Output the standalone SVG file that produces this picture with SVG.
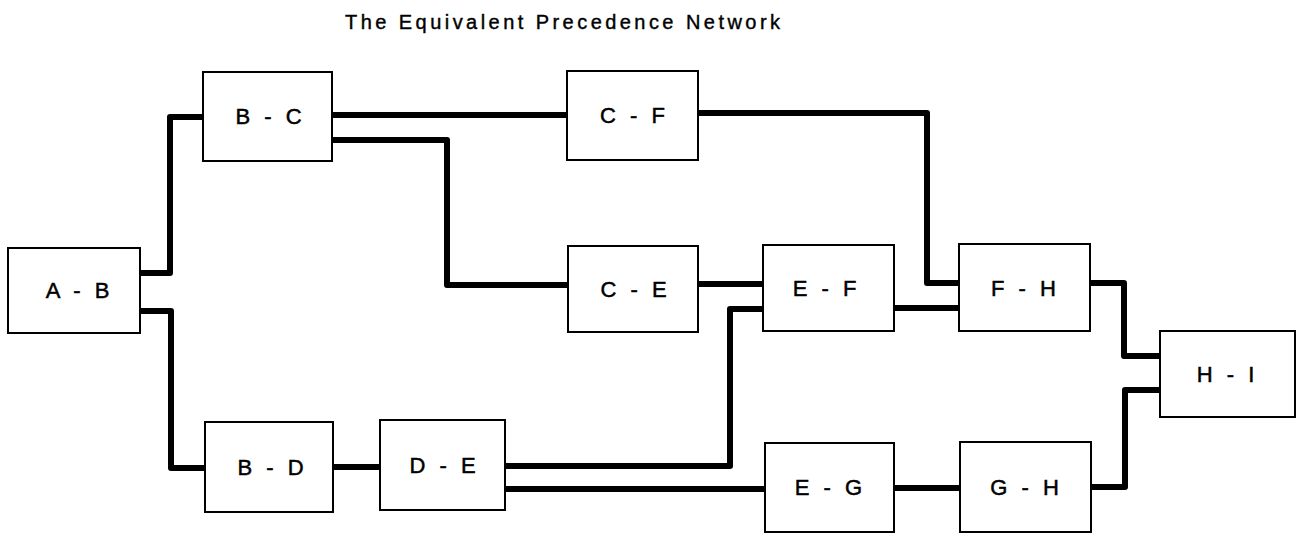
<svg xmlns="http://www.w3.org/2000/svg" width="1301" height="535" viewBox="0 0 1301 535">
  <style>
    .box { fill: #ffffff; stroke: #000000; stroke-width: 2; }
    .lbl { font-family: "Liberation Sans", Arial, sans-serif; font-size: 22px; fill: #000000; stroke: #000000; stroke-width: 0.5; text-anchor: middle; word-spacing: 6px; letter-spacing: 1px; }
    .title { font-family: "Liberation Sans", Arial, sans-serif; font-size: 20px; fill: #000000; stroke: #000000; stroke-width: 0.4; }
    .wire { fill: none; stroke: #000000; stroke-width: 6; stroke-linejoin: round; stroke-linecap: butt; }
  </style>

  <rect x="0" y="0" width="1301" height="535" fill="#ffffff"/>

  <text class="title" x="345" y="29" textLength="435" lengthAdjust="spacing">The Equivalent Precedence Network</text>

  <!-- precedence links, drawn first so the boxes sit on top of their ends -->
  <g id="connectors">
    <path class="wire" d="M140,273 H170 V117 H203"/>
    <path class="wire" d="M140,311 H171 V468 H205"/>
    <path class="wire" d="M332,115 H567"/>
    <path class="wire" d="M332,140 H447 V285 H568"/>
    <path class="wire" d="M698,113 H927 V283 H959"/>
    <path class="wire" d="M698,284 H763"/>
    <path class="wire" d="M894,308 H959"/>
    <path class="wire" d="M333,467 H380"/>
    <path class="wire" d="M505,466 H730 V309 H763"/>
    <path class="wire" d="M505,489 H765"/>
    <path class="wire" d="M894,488 H960"/>
    <path class="wire" d="M1090,283 H1124 V356 H1160"/>
    <path class="wire" d="M1091,487 H1125 V390 H1160"/>
  </g>

  <g id="node-AB">
    <rect class="box" x="8" y="248" width="132" height="85"/>
    <text class="lbl" x="78" y="298">A - B</text>
  </g>
  <g id="node-BC">
    <rect class="box" x="203" y="72" width="129" height="89"/>
    <text class="lbl" x="269" y="124">B - C</text>
  </g>
  <g id="node-CF">
    <rect class="box" x="567" y="71" width="131" height="89"/>
    <text class="lbl" x="633" y="123">C - F</text>
  </g>
  <g id="node-CE">
    <rect class="box" x="568" y="246" width="130" height="86"/>
    <text class="lbl" x="634" y="297">C - E</text>
  </g>
  <g id="node-EF">
    <rect class="box" x="763" y="245" width="131" height="86"/>
    <text class="lbl" x="825" y="296">E - F</text>
  </g>
  <g id="node-FH">
    <rect class="box" x="959" y="244" width="131" height="87"/>
    <text class="lbl" x="1024" y="296">F - H</text>
  </g>
  <g id="node-HI">
    <rect class="box" x="1160" y="331" width="135" height="86"/>
    <text class="lbl" x="1226" y="382">H - I</text>
  </g>
  <g id="node-BD">
    <rect class="box" x="205" y="422" width="128" height="90"/>
    <text class="lbl" x="271" y="475">B - D</text>
  </g>
  <g id="node-DE">
    <rect class="box" x="380" y="420" width="125" height="90"/>
    <text class="lbl" x="443" y="473">D - E</text>
  </g>
  <g id="node-EG">
    <rect class="box" x="765" y="443" width="129" height="89"/>
    <text class="lbl" x="829" y="495">E - G</text>
  </g>
  <g id="node-GH">
    <rect class="box" x="960" y="442" width="131" height="90"/>
    <text class="lbl" x="1025" y="495">G - H</text>
  </g>
</svg>
